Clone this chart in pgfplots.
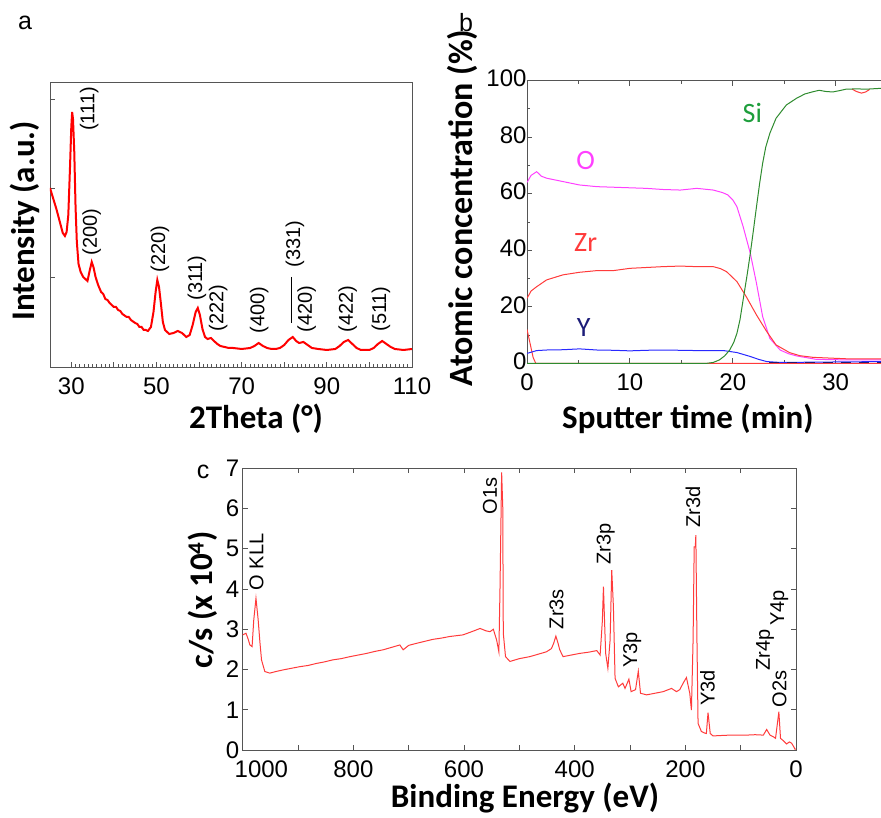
\documentclass[border=0pt]{standalone}
\usepackage{fontspec}
\setmainfont{Liberation Sans}
\newfontfamily\calib{Carlito}
\usepackage{pgfplots}
\pgfplotsset{compat=1.18}

\definecolor{xrdred}{HTML}{FF0000}
\definecolor{omag}{HTML}{FF40FF}
\definecolor{zrred}{HTML}{FF3B3B}
\definecolor{yblue}{HTML}{2828FF}
\definecolor{ynavy}{HTML}{1C1C78}
\definecolor{sigreen}{HTML}{2E8B2E}
\definecolor{silabel}{HTML}{1E9E3C}
\definecolor{frame}{HTML}{555555}

\pgfplotsset{
  panel/.style={
    scale only axis, anchor=south west,
    axis line style={draw=frame, line width=0.9pt},
    tick style={draw=frame, line width=0.9pt},
    tick align=inside,
    major tick length=5pt, minor tick length=3pt,
    /pgf/number format/assume math mode=true,
    ticklabel style={font=\fontsize{24}{24}\selectfont},
    xticklabel style={yshift=-7pt},
  },
}
\newcommand{\axlab}{\calib\bfseries\fontsize{33}{33}\selectfont}
\newcommand{\pk}{\fontsize{20}{20}\selectfont}

\begin{document}
\begin{tikzpicture}
\useasboundingbox (0,0) rectangle (881pt,818pt);
\clip (0,0) rectangle (881pt,818pt);

% ---------------- panel a: XRD ----------------
\begin{axis}[panel,
  at={(50pt,451pt)}, width=362pt, height=285pt,
  xmin=25, xmax=110, ymin=0, ymax=285,
  xtick={30,40,...,110}, xticklabels={30,,50,,70,,90,,110},
  minor x tick num=9,
  ytick={90,179,268}, yticklabels={},
  xtick pos=lower, ytick pos=left,
]
\addplot[xrdred, line width=2pt] coordinates {
(25,179) (25.5,172) (26,165) (26.5,158) (27,150) (27.5,142) (28,134) (28.5,131)
(28.9,135) (29.3,152) (29.7,200) (30,240) (30.2,255) (30.4,248) (30.7,215) (31,160)
(31.3,125) (31.7,103) (32.2,95) (32.8,90) (33.3,88) (33.8,86) (34.3,96) (34.8,105)
(35.2,100) (35.7,90) (36.3,82) (37,75) (37.5,73) (38,68) (38.5,67) (39,64) (40,60)
(40.5,60) (41,57) (41.5,56) (42,53) (43,50) (43.5,50) (44,47) (45,44) (45.5,43)
(46,40) (46.5,40) (47,37) (47.5,37) (48,36) (48.7,40) (49.3,55) (49.8,75)
(50.2,87) (50.6,80) (51,65) (51.5,45) (52,37) (53,33) (54,34) (55,36) (56,34)
(57,30) (57.8,32) (58.5,42) (59.2,55) (59.7,59) (60.2,52) (60.8,38) (61.4,30)
(62,28) (62.8,29) (63.5,26) (64.3,23) (65,21) (66,20) (67,19) (68,19) (70,18)
(72,19) (73,21) (74,24) (75,21) (76,19) (77,18) (78,18) (79,19) (80,22) (81,27)
(82,30) (82.8,26) (83.5,24) (84.5,25) (85.5,22) (86.5,19) (88,18) (90,17) (92,18)
(93,21) (94,25) (95,27) (96,23) (97,19) (98,17) (100,17) (101,19) (102,23)
(103,26) (104,23) (105,20) (106,18) (108,17) (110,18)
};
\begin{scope}[every node/.style={font=\pk, rotate=90, inner sep=0pt}]
\node at (axis cs:34.2,258) {(111)};
\node at (axis cs:34.8,135) {(200)};
\node at (axis cs:50.8,118) {(220)};
\node at (axis cs:59.5,89) {(311)};
\node at (axis cs:64.5,59) {(222)};
\node at (axis cs:74.1,57) {(400)};
\node at (axis cs:82.5,123) {(331)};
\node at (axis cs:85.3,58) {(420)};
\node at (axis cs:94.9,58) {(422)};
\node at (axis cs:102.7,58) {(511)};
\end{scope}
\draw[black, line width=1.2pt] (axis cs:81.8,90) -- (axis cs:81.8,44);
\end{axis}

% ---------------- panel b: depth profile ----------------
\begin{axis}[panel,
  at={(527pt,454.7pt)}, width=354pt, height=282.6pt,
  xmin=0, xmax=34.4, ymin=0, ymax=100,
  xtick={0,10,20,30}, minor x tick num=1,
  ytick={0,20,...,100}, minor y tick num=1,
  xtick pos=both, ytick pos=left,
  yticklabel style={xshift=3pt, yshift=2pt},
]
% zero baseline and early red trace
\addplot[zrred, line width=1pt] coordinates {
(0,12) (0.3,7) (0.6,2) (0.85,0) (5,0) (10,0) (20,0) (30,0) (34.4,0)};
\addplot[zrred, line width=1pt] coordinates {
(31.6,97.0) (32.0,96.2) (32.5,95.6) (32.9,96.0) (33.3,96.9)};
% O
\addplot[omag, line width=1pt] coordinates {
(0,64) (0.4,66.5) (0.94,67.8) (1.4,66.2) (1.9,65.5) (3.5,64.3) (5.1,63.1) (6.8,62.5)
(8.4,62.3) (10,62.1) (11.6,61.9) (13.2,61.5) (14.9,61.3) (16.5,61.9) (18.1,61.3)
(19,60.4) (19.5,59.6) (20,57.8) (20.4,55.4) (21,48.4) (21.7,38.9) (22.3,28.3)
(22.9,16.5) (23.6,8.8) (24.6,4.7) (25.4,3.4) (26.2,2.6) (28.1,1.4) (31,1.2) (34.4,1.2)};
% Zr
\addplot[zrred, line width=1pt] coordinates {
(0,23) (0.4,25.6) (0.94,27.1) (1.9,29.5) (3.5,31.3) (5.1,32.2) (6.8,32.8) (8.4,32.8)
(10,33.6) (11.6,33.9) (13.2,34.2) (14.9,34.4) (16.5,34.2) (18.1,34.2) (18.8,33.5)
(19.4,32.4) (20.4,28.9) (21.3,23.6) (22.3,17.1) (23.3,11.2) (24.2,6.5) (25.5,3.8)
(26.5,2.7) (27.8,2.1) (31,1.6) (34.4,1.6)};
% Y
\addplot[yblue, line width=1pt] coordinates {
(0,3.5) (0.94,4.5) (1.9,4.7) (3.5,4.8) (5.1,5.1) (6.8,4.7) (8.4,4.6) (10,4.4)
(11.6,4.6) (13.2,4.7) (14.9,4.6) (16.5,4.5) (19.1,4.5) (20.4,3.8) (21.7,2.4)
(22.5,1.4) (23.3,0.6) (24.6,0.3) (28,0.4) (31,0.5) (34.4,0.6)};
\addplot[ynavy, line width=1.2pt, dash pattern=on 10pt off 8pt] coordinates {
(23.5,0.3) (34.4,0.3)};
% Si
\addplot[sigreen, line width=1pt] coordinates {
(0,0) (10,0) (17.5,0) (18.1,0.3) (18.7,1.2) (19.2,2.6) (19.7,4.7) (20.1,7.5)
(20.4,10.6) (20.7,15.5) (21,22.4) (21.4,31.5) (21.7,38.9) (22,47) (22.3,55.4)
(22.6,63.5) (22.9,70.8) (23.2,76.5) (23.6,81.4) (24.2,86.7) (25.2,91.4) (26.2,93.8)
(27,95.3) (27.8,96.1) (28.4,96.6) (29,96.2) (29.7,96.0) (30.4,96.5) (31,97.0)
(32,97.1) (33,97.0) (34.4,97.3)};
\begin{scope}[every node/.style={font=\calib\fontsize{28}{28}\selectfont, inner sep=0pt}]
\node[text=silabel] at (axis cs:21.9,88.5) {Si};
\node[text=omag] at (axis cs:5.7,71.7) {O};
\node[text=zrred] at (axis cs:5.7,42.6) {Zr};
\node[text=ynavy] at (axis cs:5.5,12.5) {Y};
\end{scope}
\end{axis}

% ---------------- panel c: XPS survey ----------------
\begin{axis}[panel,
  at={(242.7pt,68pt)}, width=553.3pt, height=281.7pt,
  x dir=reverse,
  xmin=0, xmax=1000, ymin=0, ymax=7,
  xtick={0,100,...,1000},
  xticklabels={0,,200,,400,,600,,800,,\makebox[0pt][l]{\kern-8pt 1000}},
  ytick={0,1,...,7},
  xtick pos=both, ytick pos=both,
]
\addplot[zrred, line width=1pt] coordinates {
(1000,2.86) (994,2.90) (990,2.75) (987,2.61) (983,2.57) (980,3.23) (976,3.77)
(972,3.23) (969,2.70) (966,2.24) (960,1.95) (951,1.91) (940,1.95) (927,1.99)
(912,2.03) (897,2.07) (882,2.10) (867,2.15) (852,2.19) (837,2.24) (822,2.27)
(806,2.32) (791,2.36) (776,2.40) (761,2.45) (746,2.49) (731,2.55) (716,2.61)
(710,2.49) (700,2.60) (686,2.65) (671,2.70) (656,2.75) (641,2.78) (626,2.82)
(602,2.86) (586,2.94) (571,3.02) (560,2.96) (553,2.94) (547,3.00) (541,2.73)
(537,2.44) (535,3.98) (532,6.90) (530,6.05) (529,2.90) (525,2.32) (517,2.20)
(500,2.27) (481,2.32) (466,2.38) (451,2.44) (442,2.52) (438,2.65) (434,2.83)
(430,2.65) (427,2.49) (421,2.32) (406,2.36) (391,2.40) (375,2.43) (360,2.47)
(354,2.36) (350,3.2) (348,4.06) (346,3.2) (344,2.40) (340,2.03) (336,2.73)
(333,4.47) (330,3.56) (327,1.78) (321,1.57) (313,1.66) (309,1.53) (302,1.76)
(298,1.45) (290,1.50) (285,1.96) (281,1.41) (270,1.37) (255,1.41) (240,1.45)
(225,1.53) (216,1.45) (210,1.50) (204,1.66) (198,1.80) (192,1.41) (189,0.99)
(186,2.73) (184,5.05) (182,5.05) (181,5.34) (179,2.73) (177,0.66) (171,0.46)
(165,0.42) (162,0.41) (159,0.93) (155,0.41) (150,0.35) (135,0.36) (119,0.37)
(104,0.37) (89,0.37) (74,0.38) (59,0.37) (53,0.51) (47,0.37) (40,0.32) (37,0.29)
(31,0.95) (28,0.29) (22,0.22) (17,0.15) (12,0.20) (8,0.17) (4,0.08) (2,0.02) (0,0.02)
};
\begin{scope}[every node/.style={font=\pk, rotate=90, inner sep=0pt}]
\node at (axis cs:975,4.67) {O KLL};
\node at (axis cs:553,6.31) {O1s};
\node at (axis cs:433,3.5) {Zr3s};
\node at (axis cs:344,5.12) {Zr3p};
\node at (axis cs:296,2.48) {Y3p};
\node at (axis cs:186,6.04) {Zr3d};
\node at (axis cs:160,1.54) {Y3d};
\node at (axis cs:56,2.48) {Zr4p};
\node at (axis cs:30,3.53) {Y4p};
\node at (axis cs:30,1.52) {O2s};
\end{scope}
\end{axis}

% ---------------- labels ----------------
\node[font=\fontsize{25}{25}\selectfont] at (25pt,795pt) {a};
\node[font=\fontsize{25}{25}\selectfont] at (466pt,795pt) {b};
\node[font=\fontsize{25}{25}\selectfont] at (203pt,346pt) {c};
\node[font=\axlab, rotate=90] at (25pt,597pt) {Intensity (a.u.)};
\node[font=\axlab] at (256pt,399pt) {2Theta (°)};
\node[font=\calib\bfseries\fontsize{34}{34}\selectfont, rotate=90] at (462pt,610pt) {Atomic concentration (\%)};
\node[font=\axlab] at (688pt,399pt) {Sputter time (min)};
\node[font=\axlab, rotate=90] at (203pt,218pt) {c/s (x 10\textsuperscript{4})};
\node[font=\axlab, anchor=base] at (525pt,10pt) {Binding Energy (eV)};
\end{tikzpicture}
\end{document}
